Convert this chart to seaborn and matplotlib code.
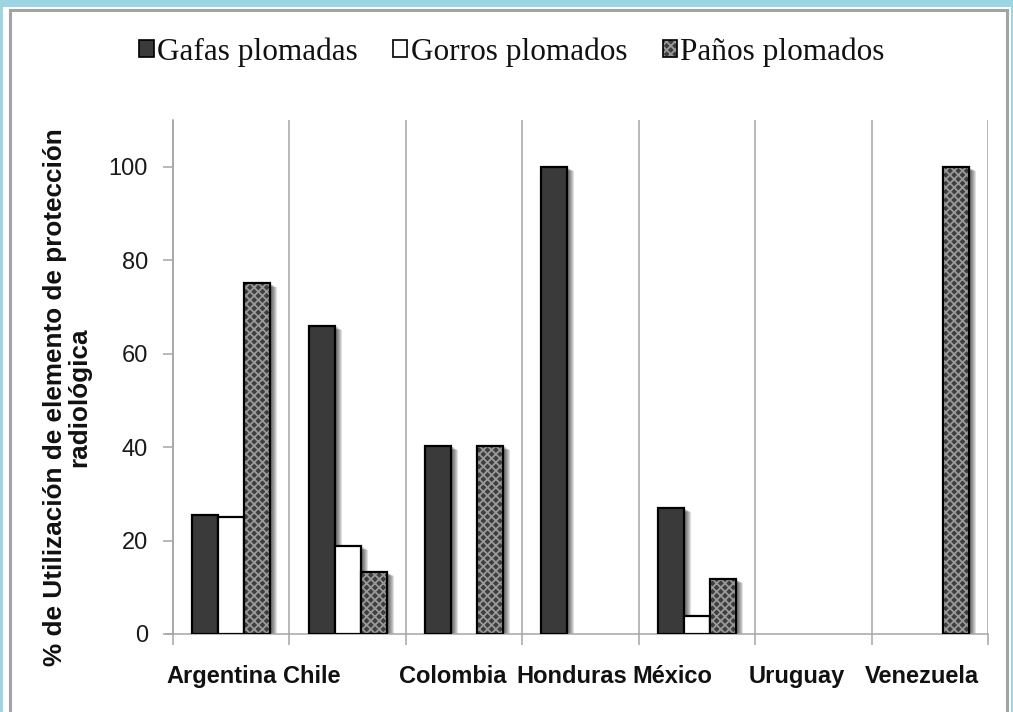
import numpy as np
import pandas as pd
import matplotlib
matplotlib.use("Agg")
import matplotlib.pyplot as plt
from matplotlib.patches import Patch, Rectangle
from matplotlib.legend_handler import HandlerTuple
from matplotlib.transforms import ScaledTranslation
from matplotlib.ticker import FixedLocator
import seaborn as sns

# --- data -------------------------------------------------------------
paises = ["Argentina", "Chile", "Colombia", "Honduras", "México", "Uruguay", "Venezuela"]
elementos = ["Gafas plomadas", "Gorros plomados", "Paños plomados"]
gafas = [25.4, 66.0, 40.3, 100.0, 27.0, 0.0, 0.0]
gorros = [25.0, 18.9, 0.0, 0.0, 3.9, 0.0, 0.0]
panos = [75.1, 13.3, 40.3, 0.0, 11.8, 0.0, 100.0]
yticks = [0, 20, 40, 60, 80, 100]
ylabel = "% de Utilización de elemento de protección\nradiológica"

rows = []
for serie, vals in zip(elementos, [gafas, gorros, panos]):
    for p, v in zip(paises, vals):
        # empty categories are left without a bar
        rows.append({"pais": p, "elemento": serie, "valor": v if v > 0 else np.nan})
df = pd.DataFrame(rows)

# --- style ------------------------------------------------------------
sns.set_theme(style="white")
plt.rcParams["font.family"] = ["Liberation Sans", "DejaVu Sans"]
plt.rcParams["hatch.linewidth"] = 1.3

GRID = "#a6a6a6"
HATCH = "#999999"
colores = {"Gafas plomadas": "#3a3a3a", "Gorros plomados": "#ffffff", "Paños plomados": "#3e3e3e"}

fig = plt.figure(figsize=(10.13, 7.12), dpi=100, facecolor="#9dd5e2")
W, H = 1013, 712
# white card with a grey frame
fig.patches.append(Rectangle((3 / W, 0), 1008 / W, 705 / H, transform=fig.transFigure,
                             facecolor="white", edgecolor="none", zorder=-3))
fig.patches.append(Rectangle((9.5 / W, -0.01), 997 / W, (702.5 / H) + 0.01, transform=fig.transFigure,
                             facecolor="none", edgecolor="#a3a3a3", linewidth=2.2, zorder=-2))

# a little room left of the first category so its name can start before the axis line
margen = 0.06
px_cat = (988 - 173) / len(paises)
x_izq = 173 - margen * px_cat
ax = fig.add_axes([x_izq / W, 1 - 634 / H, (988 - x_izq) / W, (634 - 120) / H])
ax.set_facecolor("none")

sns.barplot(data=df, x="pais", y="valor", hue="elemento", order=paises, hue_order=elementos,
            palette=colores, width=0.67, edgecolor="black", linewidth=1.6,
            errorbar=None, legend=False, ax=ax, zorder=3)
ax.spines["left"].set_position(("data", -0.5))

for serie, cont in zip(elementos, ax.containers):
    for bar in cont.patches:
        x0, y0, w, h = bar.get_x(), bar.get_y(), bar.get_width(), bar.get_height()
        # soft drop shadow: stacked translucent copies shifted right/down
        for k in range(1, 8):
            off = ScaledTranslation(k / 100, -0.6 * k / 100, fig.dpi_scale_trans)
            ax.add_patch(Rectangle((x0, y0), w, h, facecolor="black", edgecolor="none",
                                   alpha=0.12, zorder=2.5, transform=ax.transData + off))
        if serie == "Paños plomados":
            # dotted texture inside, black outline on top
            bar.set_edgecolor(HATCH)
            bar.set_hatch("xxxx")
            bar.set_linewidth(0)
            ax.add_patch(Rectangle((x0, y0), w, h, facecolor="none", edgecolor="black",
                                   linewidth=1.6, zorder=4))

# --- axes -------------------------------------------------------------
ax.set_ylim(0, 110)
ax.set_yticks(yticks)
ax.set_yticklabels([str(t) for t in yticks], fontsize=17, color="#1a1a1a")

# category separators as minor ticks + grid, names left-aligned next to them
bordes = np.arange(len(paises) + 1) - 0.5
ax.xaxis.set_minor_locator(FixedLocator(bordes))
ax.set_xticks(bordes[:-1] - 0.055)
ax.set_xticklabels(paises, fontsize=17, fontweight="bold", color="#111111", ha="left")
ax.set_xlim(-0.5 - margen, len(paises) - 0.5)

ax.tick_params(axis="x", which="major", length=0, pad=22)
ax.tick_params(axis="x", which="minor", direction="out", length=8, width=1.1, color=GRID, bottom=True)
ax.tick_params(axis="y", which="major", direction="out", length=7, width=1.1, color=GRID, pad=11, left=True)
ax.xaxis.grid(True, which="minor", color=GRID, linewidth=1.1, zorder=0)
ax.xaxis.grid(False, which="major")
ax.yaxis.grid(False)
ax.set_axisbelow(True)

for s in ["top", "right"]:
    ax.spines[s].set_visible(False)
for s in ["left", "bottom"]:
    ax.spines[s].set_color(GRID)
    ax.spines[s].set_linewidth(1.1)

ax.set_xlabel("")
ax.set_ylabel(ylabel, fontsize=18.8, fontweight="bold", color="#111111",
              ha="center", va="center", multialignment="center", linespacing=1.0)
ax.yaxis.set_label_coords((67 - x_izq) / (988 - x_izq), (634 - 397) / 514)

# --- legend -----------------------------------------------------------
h_gafas = Patch(facecolor=colores["Gafas plomadas"], edgecolor="black", linewidth=1.2)
h_gorros = Patch(facecolor="white", edgecolor="black", linewidth=1.2)
h_panos = (Patch(facecolor=colores["Paños plomados"], edgecolor=HATCH, hatch="xxxx", linewidth=0),
           Patch(facecolor="none", edgecolor="black", linewidth=1.2))
leg = fig.legend([h_gafas, h_gorros, h_panos], elementos,
                 handler_map={tuple: HandlerTuple(ndivide=1, pad=0)},
                 loc="center", bbox_to_anchor=(512 / W, 1 - 52 / H), ncol=3, frameon=False,
                 prop={"family": ["Liberation Serif"], "size": 22.5},
                 handlelength=0.45, handleheight=0.45, handletextpad=0.1, columnspacing=1.15,
                 borderaxespad=0)
for t in leg.get_texts():
    t.set_color("#111111")

fig.savefig("out.png", dpi=100, facecolor=fig.get_facecolor())
